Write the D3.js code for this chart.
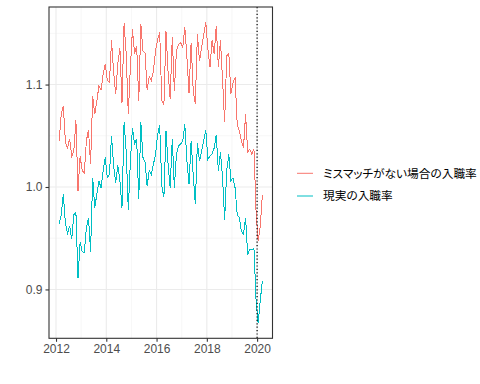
<!DOCTYPE html>
<html>
<head>
<meta charset="utf-8">
<script src="https://cdn.jsdelivr.net/npm/d3@7"></script>
<style>
  body { margin: 0; background: #fff; }
  .axis text { font-family: "Liberation Sans", Arial, sans-serif; font-size: 12px; fill: #4d4d4d; }
  .legend text { font-family: "Noto Sans CJK JP", sans-serif; font-size: 11.7px; fill: #000; font-feature-settings: "palt"; }
</style>
</head>
<body>
<script>
// monthly series, Feb 2012 .. Mar 2020
var startYear = 2012, startMonth = 2;

var noMismatch = [
  1.045, 1.071, 1.079, 1.043, 1.038, 1.047, 1.030, 1.035, 1.065, 0.996, 1.030, 1.016,
  1.014, 1.045, 1.056, 1.022, 1.089, 1.071, 1.084, 1.099, 1.095, 1.110, 1.120, 1.104,
  1.102, 1.143, 1.112, 1.091, 1.120, 1.136, 1.082, 1.160, 1.130, 1.071, 1.117, 1.154,
  1.130, 1.138, 1.084, 1.159, 1.133, 1.131, 1.095, 1.108, 1.104, 1.113, 1.133, 1.144,
  1.151, 1.084, 1.080, 1.152, 1.112, 1.086, 1.146, 1.094, 1.133, 1.139, 1.141, 1.136,
  1.156, 1.126, 1.092, 1.141, 1.094, 1.081, 1.149, 1.123, 1.136, 1.148, 1.161, 1.135,
  1.117, 1.143, 1.130, 1.157, 1.117, 1.143, 1.105, 1.063, 1.128, 1.130, 1.091, 1.102,
  1.107, 1.061, 1.055, 1.045, 1.038, 1.071, 1.034, 1.037, 1.032, 1.037, 0.977, 0.947,
  0.962, 0.992
];

var actual = [
  0.964, 0.973, 0.993, 0.964, 0.955, 0.962, 0.949, 0.973, 0.975, 0.911, 0.946, 0.937,
  0.936, 0.960, 0.970, 0.937, 1.009, 0.980, 0.993, 1.006, 0.999, 1.016, 1.029, 1.009,
  1.012, 1.050, 1.021, 1.004, 1.021, 1.006, 0.980, 1.063, 1.035, 0.978, 1.025, 1.058,
  1.042, 1.047, 0.988, 1.063, 1.029, 1.024, 1.001, 1.016, 1.012, 1.022, 1.032, 1.051,
  1.060, 1.001, 0.990, 1.055, 1.022, 0.999, 1.047, 0.999, 1.032, 1.040, 1.042, 1.045,
  1.061, 1.025, 1.003, 1.045, 1.012, 0.983, 1.043, 1.025, 1.035, 1.045, 1.056, 1.027,
  1.030, 1.032, 1.038, 1.051, 1.016, 1.034, 1.009, 0.968, 1.016, 1.032, 1.006, 1.009,
  0.999, 0.973, 0.970, 0.957, 0.954, 0.970, 0.934, 0.939, 0.939, 0.940, 0.890, 0.867,
  0.889, 0.908
];

var seriesNames = ["ミスマッチがない場合の入職率", "現実の入職率"];
var seriesColors = ["#F8766D", "#00BFC4"];
var xTicks = [2012, 2014, 2016, 2018, 2020];
var yTicks = [0.9, 1.0, 1.1];
var xMinor = [2013, 2015, 2017, 2019];
var yMinor = [0.95, 1.05, 1.15];
var markerYear = 2020;

// month index -> decimal year (mid month)
var times = noMismatch.map(function (d, i) {
  var m = startMonth - 1 + i;
  return startYear + Math.floor(m / 12) + ((m % 12) + 0.5) / 12;
});

var width = 480, height = 384;
var panel = { left: 49, right: 272.5, top: 7, bottom: 338.3 };

var svg = d3.select("body").append("svg")
  .attr("width", width)
  .attr("height", height);

// ggplot style 5% expansion
function expand(ext) {
  var pad = (ext[1] - ext[0]) * 0.05;
  return [ext[0] - pad, ext[1] + pad];
}
var allY = noMismatch.concat(actual);
var x = d3.scaleLinear().domain(expand(d3.extent(times))).range([panel.left, panel.right]);
var y = d3.scaleLinear().domain(expand(d3.extent(allY))).range([panel.bottom, panel.top]);

// grid
var grid = svg.append("g");
grid.selectAll(".xminor").data(xMinor).enter().append("line")
  .attr("x1", d => x(d)).attr("x2", d => x(d))
  .attr("y1", panel.top).attr("y2", panel.bottom)
  .attr("stroke", "#f2f2f2").attr("stroke-width", 0.6);
grid.selectAll(".yminor").data(yMinor).enter().append("line")
  .attr("y1", d => y(d)).attr("y2", d => y(d))
  .attr("x1", panel.left).attr("x2", panel.right)
  .attr("stroke", "#f2f2f2").attr("stroke-width", 0.6);
grid.selectAll(".xmajor").data(xTicks).enter().append("line")
  .attr("x1", d => x(d)).attr("x2", d => x(d))
  .attr("y1", panel.top).attr("y2", panel.bottom)
  .attr("stroke", "#ebebeb").attr("stroke-width", 1.1);
grid.selectAll(".ymajor").data(yTicks).enter().append("line")
  .attr("y1", d => y(d)).attr("y2", d => y(d))
  .attr("x1", panel.left).attr("x2", panel.right)
  .attr("stroke", "#ebebeb").attr("stroke-width", 1.1);

// lines
var line = d3.line()
  .x(function (d, i) { return x(times[i]); })
  .y(function (d) { return y(d); });

[noMismatch, actual].forEach(function (vals, j) {
  svg.append("path")
    .attr("d", line(vals))
    .attr("fill", "none")
    .attr("stroke", seriesColors[j])
    .attr("stroke-width", 1)
    .attr("shape-rendering", "crispEdges");
});

// dotted marker
svg.append("line")
  .attr("x1", x(markerYear)).attr("x2", x(markerYear))
  .attr("y1", panel.top).attr("y2", panel.bottom)
  .attr("stroke", "#000").attr("stroke-width", 1.2)
  .attr("stroke-dasharray", "1.2,2.2");

// panel border
svg.append("rect")
  .attr("x", panel.left).attr("y", panel.top)
  .attr("width", panel.right - panel.left).attr("height", panel.bottom - panel.top)
  .attr("fill", "none").attr("stroke", "#333").attr("stroke-width", 1.1);

// axes
var xAxis = svg.append("g").attr("class", "axis")
  .attr("transform", "translate(0," + panel.bottom + ")")
  .call(d3.axisBottom(x).tickValues(xTicks).tickFormat(d3.format("d")).tickSize(3.5).tickPadding(3));
var yAxis = svg.append("g").attr("class", "axis")
  .attr("transform", "translate(" + panel.left + ",0)")
  .call(d3.axisLeft(y).tickValues(yTicks).tickFormat(d3.format(".1f")).tickSize(3.5).tickPadding(3));
[xAxis, yAxis].forEach(function (a) {
  a.select(".domain").remove();
  a.selectAll(".tick line").attr("stroke", "#333").attr("stroke-width", 1.1);
});

// legend
var legend = svg.append("g").attr("class", "legend");
var keyY = [173.3, 196];
seriesNames.forEach(function (name, j) {
  legend.append("line")
    .attr("x1", 297).attr("x2", 313)
    .attr("y1", keyY[j]).attr("y2", keyY[j])
    .attr("stroke", seriesColors[j]).attr("stroke-width", 1);
  legend.append("text")
    .attr("x", 323).attr("y", keyY[j])
    .attr("dy", "0.36em")
    .text(name);
});
</script>
</body>
</html>
